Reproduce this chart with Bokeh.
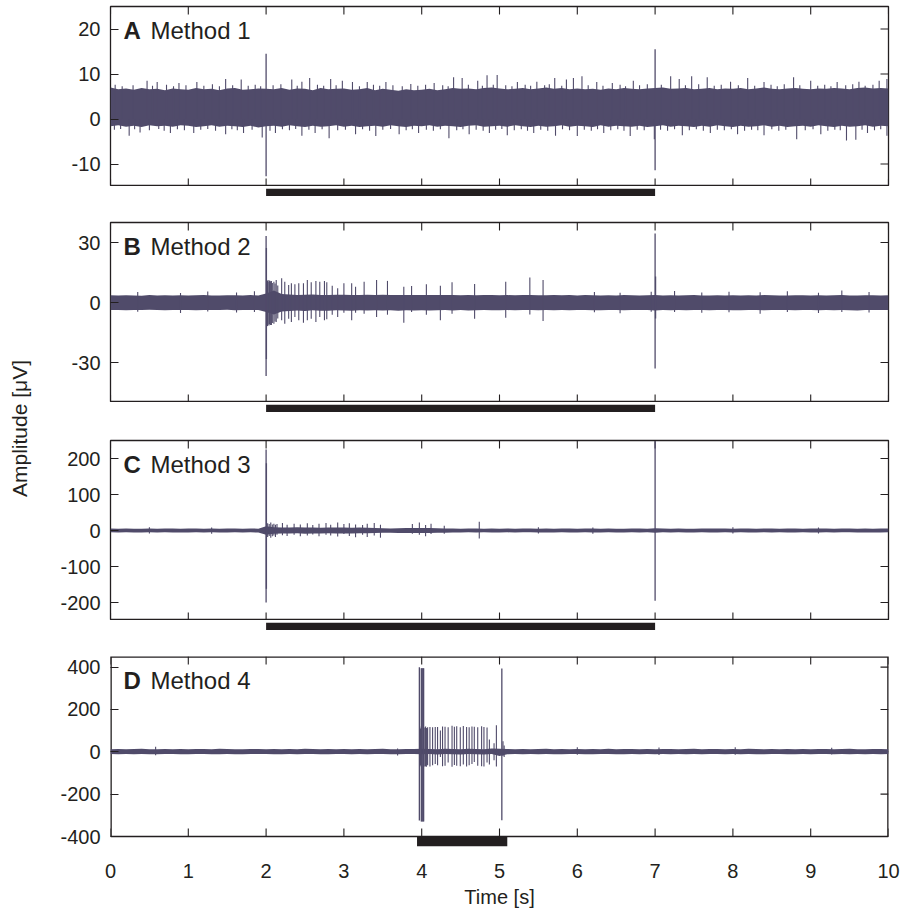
from math import pi
from bokeh.plotting import figure
from bokeh.layouts import column, row
from bokeh.models import Range1d, LinearAxis, FixedTicker, Label, ColumnDataSource
from bokeh.embed import file_html
from bokeh.resources import INLINE

INK = "#231f20"
SIG = "#504b6a"
FONT = "Liberation Sans"

# ---------------- data ----------------
x_ticks = [0, 1, 2, 3, 4, 5, 6, 7, 8, 9, 10]
x_tick_labels = ["0", "1", "2", "3", "4", "5", "6", "7", "8", "9", "10"]
core_t = [round(i * 0.1, 1) for i in range(101)]  # envelope sample times (s)

panel_letters = ["A", "B", "C", "D"]
panel_names = ["Method 1", "Method 2", "Method 3", "Method 4"]
y_ranges = [(-15, 25), (-50, 40), (-250, 250), (-400, 450)]
y_ticks = [[-10, 0, 10, 20], [-30, 0, 30], [-200, -100, 0, 100, 200], [-400, -200, 0, 200, 400]]
y_tick_labels = [["-10", "0", "10", "20"], ["-30", "0", "30"],
                 ["-200", "-100", "0", "100", "200"], ["-400", "-200", "0", "200", "400"]]
stim_start = [2.0, 2.0, 2.0, 3.94]
stim_end = [7.0, 7.0, 7.0, 5.10]

# Panel A: noise envelope
a_hi = [7.0, 6.6, 6.8, 6.5, 6.9, 6.6, 6.7, 6.4, 6.8, 6.6,
        6.5, 6.9, 6.6, 6.7, 6.4, 6.8, 6.9, 6.5, 6.6, 6.8,
        6.7, 6.6, 6.9, 6.5, 6.8, 6.7, 6.4, 6.9, 6.6, 6.7,
        6.8, 6.5, 6.6, 6.9, 6.4, 6.7, 6.5, 6.3, 6.6, 6.4,
        6.5, 6.7, 6.4, 6.6, 6.9, 6.7, 6.8, 6.6, 6.9, 7.0,
        6.8, 6.6, 6.7, 6.9, 6.6, 6.8, 7.0, 6.7, 6.9, 6.6,
        6.8, 6.6, 6.7, 6.5, 6.8, 6.6, 6.9, 6.7, 6.6, 6.8,
        6.9, 7.0, 6.7, 6.8, 6.9, 6.6, 6.7, 6.9, 6.6, 6.8,
        6.7, 6.9, 6.6, 6.8, 7.0, 6.7, 6.6, 6.8, 6.9, 6.7,
        6.6, 6.8, 6.7, 6.9, 6.8, 6.6, 6.9, 7.0, 6.8, 6.9,
        6.8]
a_lo = [-1.6, -1.4, -1.7, -1.5, -1.8, -1.4, -1.6, -1.5, -1.7, -1.4,
        -1.5, -1.8, -1.6, -1.4, -1.7, -1.5, -1.6, -1.8, -1.5, -1.9,
        -1.6, -1.5, -1.7, -1.4, -1.6, -1.8, -1.5, -1.7, -1.6, -1.4,
        -1.7, -1.5, -1.8, -1.6, -1.5, -1.7, -1.4, -1.6, -1.8, -1.5,
        -1.6, -1.4, -1.7, -1.5, -1.6, -1.8, -1.5, -1.4, -1.7, -1.6,
        -1.5, -1.7, -1.4, -1.6, -1.8, -1.5, -1.7, -1.6, -1.4, -1.7,
        -1.5, -1.6, -1.8, -1.4, -1.7, -1.5, -1.6, -1.7, -1.5, -1.8,
        -1.6, -1.4, -1.7, -1.5, -1.6, -1.8, -1.5, -1.7, -1.4, -1.6,
        -1.8, -1.5, -1.7, -1.6, -1.4, -1.7, -1.5, -1.8, -1.6, -1.5,
        -1.7, -1.4, -1.6, -1.8, -1.5, -1.7, -1.6, -1.4, -1.7, -1.5,
        -1.6]
a_up_t = [0.06, 0.15, 0.29, 0.47, 0.54, 0.60, 0.72, 0.81, 0.88, 0.97, 1.11, 1.20, 1.31, 1.40, 1.48, 1.57,
          1.68, 1.77, 1.86, 1.93, 2.09, 2.19, 2.33, 2.40, 2.46, 2.56, 2.66, 2.74, 2.83, 2.90, 2.98, 3.11,
          3.20, 3.30, 3.38, 3.46, 3.54, 3.63, 3.75, 3.86, 3.95, 4.05, 4.16, 4.27, 4.34, 4.41, 4.52, 4.60,
          4.72, 4.78, 4.84, 4.92, 4.97, 5.08, 5.16, 5.23, 5.33, 5.40, 5.48, 5.58, 5.64, 5.71, 5.80, 5.86,
          5.95, 6.06, 6.14, 6.25, 6.33, 6.45, 6.55, 6.62, 6.72, 6.80, 6.90, 7.08, 7.20, 7.31, 7.39, 7.47,
          7.56, 7.67, 7.76, 7.85, 7.97, 8.07, 8.19, 8.28, 8.40, 8.49, 8.57, 8.66, 8.78, 8.86, 9.00, 9.09,
          9.18, 9.26, 9.34, 9.45, 9.54, 9.62, 9.70, 9.80, 9.88, 9.98]
a_up_v = [7.6, 7.3, 7.5, 8.5, 7.4, 8.2, 7.6, 7.3, 8.0, 7.5, 8.2, 7.4, 7.7, 7.3, 8.9, 7.5,
          8.8, 7.4, 7.6, 7.3, 7.5, 7.7, 8.8, 7.4, 8.3, 9.1, 7.6, 7.4, 8.9, 7.5, 8.5, 8.2,
          7.3, 8.2, 7.6, 7.4, 8.2, 7.5, 7.3, 7.8, 7.4, 7.6, 8.0, 7.5, 7.3, 9.3, 9.1, 7.6,
          8.5, 7.4, 9.7, 7.6, 9.8, 7.5, 7.3, 8.2, 7.6, 7.4, 8.3, 7.5, 7.7, 9.1, 7.4, 8.8,
          9.1, 9.5, 7.5, 8.2, 7.4, 8.0, 7.6, 7.3, 8.5, 7.5, 7.7, 7.6, 9.5, 8.9, 7.5, 9.5,
          7.7, 9.3, 7.4, 7.6, 8.3, 7.5, 9.1, 7.4, 8.2, 7.6, 7.3, 7.7, 9.3, 7.5, 8.5, 7.4,
          7.6, 7.3, 8.2, 7.5, 7.7, 8.3, 7.4, 7.6, 8.5, 8.9]
a_dn_t = [0.05, 0.13, 0.24, 0.31, 0.38, 0.50, 0.62, 0.69, 0.77, 0.86, 0.95, 1.07, 1.16, 1.25, 1.35, 1.48,
          1.56, 1.63, 1.71, 1.82, 1.95, 2.05, 2.12, 2.21, 2.30, 2.38, 2.46, 2.55, 2.63, 2.72, 2.81, 2.92,
          3.02, 3.15, 3.24, 3.33, 3.41, 3.50, 3.60, 3.71, 3.80, 3.88, 3.96, 4.06, 4.15, 4.24, 4.35, 4.45,
          4.53, 4.61, 4.70, 4.79, 4.87, 4.95, 5.03, 5.10, 5.19, 5.28, 5.36, 5.44, 5.53, 5.62, 5.72, 5.81,
          5.90, 6.00, 6.09, 6.18, 6.26, 6.34, 6.43, 6.52, 6.60, 6.68, 6.77, 6.86, 6.99, 7.07, 7.16, 7.25,
          7.35, 7.44, 7.53, 7.62, 7.71, 7.80, 7.89, 7.98, 8.06, 8.15, 8.24, 8.32, 8.40, 8.50, 8.59, 8.68,
          8.82, 8.93, 9.03, 9.13, 9.22, 9.31, 9.38, 9.46, 9.58, 9.66, 9.73, 9.82, 9.90, 9.98]
a_dn_v = [-2.4, -2.2, -3.7, -2.3, -3.0, -2.5, -2.2, -2.6, -3.1, -2.3, -2.5, -3.1, -2.4, -2.2, -2.6, -3.4,
          -2.3, -2.5, -3.1, -2.4, -4.1, -2.6, -3.1, -2.3, -2.5, -2.2, -3.7, -2.4, -3.1, -2.3, -4.3, -2.5,
          -2.4, -3.4, -2.3, -2.6, -3.8, -2.4, -2.2, -3.4, -2.5, -2.3, -3.1, -2.4, -2.6, -2.3, -4.3, -2.5,
          -2.3, -3.4, -2.4, -2.6, -3.1, -2.4, -2.2, -3.6, -2.5, -2.3, -2.6, -3.1, -2.4, -2.6, -3.7, -2.3,
          -2.5, -3.8, -2.4, -2.6, -2.3, -3.1, -2.5, -2.3, -2.6, -3.8, -2.4, -2.5, -4.5, -2.4, -2.6, -2.3,
          -3.6, -2.5, -2.3, -2.6, -3.1, -2.4, -2.5, -2.3, -3.4, -2.6, -2.4, -2.5, -3.6, -2.3, -2.6, -2.4,
          -4.5, -2.5, -2.3, -3.4, -2.6, -2.4, -2.5, -4.8, -4.6, -2.4, -3.1, -2.5, -2.3, -3.7]
a_art_t = [2.0, 7.0]
a_art_top = [14.5, 15.5]
a_art_bot = [-12.7, -11.4]

# Panel B
b_hi = [3.6, 3.5, 3.6, 3.5, 3.4, 3.7, 3.5, 3.6, 3.5, 3.6,
        3.5, 3.6, 3.7, 3.5, 3.5, 3.6, 3.6, 3.5, 3.7, 3.5,
        4.5, 6.0, 4.2, 4.0, 3.8, 3.9, 4.0, 3.8, 3.8, 3.9,
        3.9, 3.8, 3.8, 3.9, 3.7, 3.9, 3.7, 3.8, 3.7, 3.8,
        3.7, 3.8, 3.7, 3.8, 3.7, 3.6, 3.8, 3.6, 3.7, 3.8,
        3.6, 3.7, 3.6, 3.7, 3.8, 3.6, 3.6, 3.7, 3.6, 3.7,
        3.5, 3.7, 3.6, 3.5, 3.6, 3.5, 3.7, 3.6, 3.5, 3.6,
        3.8, 3.5, 3.6, 3.5, 3.6, 3.7, 3.5, 3.5, 3.6, 3.5,
        3.6, 3.5, 3.6, 3.5, 3.7, 3.6, 3.5, 3.5, 3.6, 3.6,
        3.5, 3.6, 3.5, 3.6, 3.7, 3.5, 3.5, 3.6, 3.6, 3.5,
        3.6]
b_lo = [-3.8, -3.7, -3.9, -3.7, -3.8, -3.6, -3.8, -3.9, -3.7, -3.8,
        -3.7, -3.9, -3.7, -3.8, -3.8, -3.6, -3.9, -3.7, -3.8, -3.7,
        -4.8, -6.0, -4.5, -4.2, -4.0, -4.2, -3.9, -4.1, -4.1, -3.9,
        -4.0, -4.1, -3.9, -4.0, -3.9, -4.0, -3.9, -4.1, -3.9, -4.0,
        -3.9, -4.0, -3.9, -3.8, -4.0, -3.8, -4.0, -3.9, -3.8, -3.9,
        -3.9, -3.8, -3.9, -3.8, -3.7, -3.9, -3.8, -3.9, -3.8, -3.9,
        -3.8, -3.7, -3.9, -3.9, -3.7, -3.8, -3.9, -3.7, -3.8, -3.8,
        -4.0, -3.8, -3.9, -3.7, -3.9, -3.8, -3.8, -3.9, -3.8, -3.7,
        -3.9, -3.9, -3.8, -3.8, -3.9, -3.7, -3.8, -3.8, -3.9, -3.8,
        -3.8, -3.9, -3.7, -3.9, -3.8, -3.9, -4.0, -3.8, -3.7, -3.8,
        -3.8]
b_spk_t = [2.010, 2.018, 2.025, 2.037, 2.045, 2.055, 2.068, 2.080, 2.100, 2.115, 2.130, 2.150,
           2.20, 2.24, 2.29, 2.325, 2.37, 2.42, 2.48, 2.53, 2.58, 2.64, 2.69, 2.75, 2.78, 2.85, 2.92,
           3.00, 3.10, 3.15, 3.26, 3.42, 3.56, 3.77, 3.87, 4.06, 4.24, 4.39, 4.68, 5.08, 5.39, 5.56,
           0.35, 0.90, 1.25, 1.62, 1.85, 6.22, 6.55, 6.95, 7.25, 7.60, 7.95, 8.35, 8.70, 9.10, 9.40, 9.75]
b_spk_top = [9.5, 10.8, 11.2, 10.4, 11.0, 10.6, 10.7, 9.8, 10.4, 9.5, 11.3, 8.5,
             12.1, 10.4, 8.8, 9.6, 9.1, 9.6, 9.6, 11.3, 10.1, 10.8, 10.4, 10.8, 10.1, 8.4, 7.1,
             9.6, 9.6, 7.9, 10.4, 11.3, 10.8, 7.9, 8.3, 9.1, 8.4, 10.1, 9.3, 10.4, 12.5, 11.3,
             5.2, 4.8, 5.5, 5.0, 5.6, 5.3, 4.9, 5.4, 5.8, 5.0, 5.4, 5.1, 5.6, 4.9, 6.0, 5.2]
b_spk_bot = [-10.5, -11.8, -11.0, -11.5, -10.8, -11.2, -11.2, -10.2, -10.6, -9.5, -9.8, -8.0,
             -8.9, -10.6, -8.1, -9.8, -7.3, -8.9, -10.1, -8.9, -8.1, -9.8, -7.3, -8.9, -8.4, -6.1, -7.3,
             -5.1, -8.9, -5.1, -5.6, -7.3, -6.1, -10.1, -4.7, -6.1, -8.9, -5.6, -8.1, -7.6, -6.0, -9.3,
             -4.6, -5.3, -4.5, -5.0, -4.8, -4.9, -5.4, -4.6, -4.7, -5.1, -4.9, -5.6, -4.8, -5.2, -4.7, -5.0]
b_art_t = [2.0, 2.004, 7.0, 7.006]
b_art_top = [33.2, 27.3, 34.5, 13.0]
b_art_bot = [-36.8, -28.3, -33.0, -8.0]

# Panel C
c_hi = [5.5, 5.0, 5.8, 5.2, 4.9, 5.6, 5.1, 5.4, 5.9, 5.0,
        5.3, 5.7, 4.9, 5.5, 5.1, 5.8, 5.4, 5.0, 5.6, 5.2,
        12.0, 9.0, 8.5, 8.0, 8.8, 8.2, 8.6, 7.8, 8.4, 8.0,
        8.2, 7.6, 8.0, 7.4, 7.0, 6.2, 5.8, 6.5, 6.8, 7.0,
        7.2, 6.8, 6.5, 5.9, 5.6, 5.2, 5.8, 5.4, 5.0, 5.6,
        5.2, 5.7, 5.0, 5.4, 5.8, 5.1, 5.5, 5.0, 5.6, 5.3,
        5.1, 5.5, 5.3, 5.0, 5.7, 5.2, 4.9, 5.5, 5.8, 5.1,
        6.5, 5.4, 5.1, 5.6, 5.2, 5.0, 5.5, 5.8, 5.3, 5.5,
        5.0, 5.7, 5.4, 5.1, 5.9, 5.5, 5.0, 5.6, 5.8, 5.2,
        5.6, 5.3, 5.9, 5.0, 5.5, 5.7, 5.2, 5.6, 5.1, 5.4,
        5.5]
c_lo = [-5.2, -5.7, -5.0, -5.5, -5.9, -5.1, -5.5, -5.0, -5.7, -5.3,
        -5.5, -5.0, -5.6, -5.1, -5.8, -5.4, -5.0, -5.7, -5.2, -5.5,
        -12.0, -9.0, -8.2, -8.6, -7.9, -8.8, -8.0, -8.4, -7.8, -8.5,
        -8.0, -8.3, -7.5, -7.8, -6.8, -6.4, -6.0, -6.6, -7.0, -7.2,
        -6.9, -7.1, -6.4, -6.0, -5.5, -5.8, -5.2, -5.6, -5.1, -5.4,
        -5.5, -5.1, -5.6, -5.2, -5.0, -5.7, -5.3, -5.5, -5.1, -5.6,
        -5.3, -5.0, -5.5, -5.7, -5.1, -5.4, -5.8, -5.1, -5.5, -5.2,
        -6.5, -5.2, -5.6, -5.1, -5.5, -5.8, -5.1, -5.4, -5.7, -5.1,
        -5.5, -5.1, -5.7, -5.3, -5.0, -5.6, -5.2, -5.8, -5.4, -5.1,
        -5.4, -5.7, -5.1, -5.6, -5.2, -5.0, -5.6, -5.3, -5.5, -5.7,
        -5.2]
c_spk_t = [2.02, 2.04, 2.06, 2.08, 2.10, 2.12, 2.14, 2.21, 2.27, 2.36, 2.44, 2.53, 2.60, 2.68, 2.77,
           2.83, 2.92, 3.00, 3.07, 3.15, 3.24, 3.30, 3.39, 3.47, 3.88, 3.97, 4.05, 4.12, 4.29, 4.74,
           0.50, 1.30, 5.50, 6.20, 8.00, 9.10]
c_spk_top = [20, 18, 22, 17, 19, 16, 18, 21, 16, 19, 17, 20, 15, 19, 21,
             16, 22, 18, 20, 17, 15, 19, 21, 16, 18, 22, 15, 19, 13, 24,
             9, 8, 9, 8, 9, 8]
c_spk_bot = [-18, -15, -20, -16, -14, -18, -12, -13, -15, -12, -16, -14, -11, -16, -12,
             -14, -17, -10, -15, -19, -12, -18, -14, -20, -9, -12, -16, -10, -9, -22,
             -8, -9, -8, -9, -8, -8]
c_art_t = [2.0, 2.004, 7.0]
c_art_top = [225, 187, 248]
c_art_bot = [-200, -162, -195]

# Panel D
d_hi = [12, 13, 12, 13, 14, 12, 12, 13, 12, 13,
        12, 13, 13, 12, 14, 13, 12, 12, 13, 13,
        12, 13, 12, 13, 12, 14, 13, 12, 13, 12,
        13, 12, 13, 12, 13, 14, 12, 12, 13, 13,
        14, 13, 12, 14, 13, 12, 14, 13, 12, 15,
        14, 13, 12, 13, 12, 13, 14, 12, 13, 12,
        13, 12, 13, 12, 14, 12, 13, 13, 12, 13,
        12, 13, 13, 12, 13, 14, 12, 13, 13, 12,
        13, 12, 14, 13, 12, 13, 12, 13, 12, 13,
        12, 13, 13, 12, 13, 14, 12, 12, 13, 13,
        12]
d_lo = [-11, -12, -11, -12, -10, -12, -12, -11, -11, -12,
        -12, -11, -11, -12, -12, -11, -12, -12, -11, -11,
        -11, -12, -12, -11, -12, -11, -11, -12, -12, -11,
        -11, -12, -11, -12, -11, -11, -12, -12, -11, -11,
        -12, -11, -13, -11, -12, -13, -11, -12, -13, -11,
        -20, -12, -11, -12, -11, -12, -11, -12, -12, -11,
        -11, -12, -12, -11, -11, -12, -12, -11, -12, -11,
        -12, -11, -12, -11, -12, -11, -12, -11, -11, -12,
        -11, -12, -11, -12, -12, -11, -11, -12, -12, -11,
        -12, -11, -11, -12, -11, -12, -11, -12, -11, -12,
        -11]
d_spk_t = [0.58, 3.69, 3.975, 3.985, 4.04, 4.05, 4.06, 4.07,
           4.076, 4.106, 4.14, 4.174, 4.204, 4.24, 4.268, 4.30, 4.34, 4.39, 4.42, 4.45, 4.496,
           4.535, 4.577, 4.61, 4.646, 4.676, 4.72, 4.77, 4.80, 4.84, 4.87, 4.93, 4.96,
           5.045, 5.06, 6.00, 7.05, 8.03, 9.27]
d_spk_top = [24, 16, 119, 110, 115, 119, 112, 108,
             116, 117, 116, 117, 117, 100, 120, 118, 116, 123, 118, 121, 116,
             122, 117, 116, 119, 118, 116, 121, 117, 115, 58, 40, 125,
             50, 30, 21, 20, 22, 19]
d_spk_bot = [-16, -18, -71, -65, -70, -68, -71, -60,
             -63, -69, -63, -58, -63, -24, -68, -66, -50, -71, -62, -66, -68,
             -60, -70, -64, -58, -48, -66, -68, -70, -50, -60, -40, -70,
             -20, -25, -14, -15, -14, -13]
d_art_t = [3.97, 3.995, 4.005, 4.015, 4.025, 5.03]
d_art_top = [399, 394, 394, 394, 394, 393]
d_art_bot = [-325, -329, -329, -329, -329, -323]

# ---------------- drawing ----------------
XR = Range1d(0, 10)
FRAME_H = 180      # px height of each data box
BAR_H = 10         # px height of the stimulus bar


def make_panel(i, height, top, bottom, hi, lo, art_t, art_top, art_bot, bar_inside=False):
    y0, y1 = y_ranges[i]
    ystart = y0
    if bar_inside:
        ystart = y0 - (y1 - y0) * BAR_H / FRAME_H   # room for the bar below the box
    p = figure(width=866, height=height, x_range=XR, y_range=Range1d(ystart, y1),
               x_axis_location=None, y_axis_location=None, output_backend="svg",
               toolbar_location=None, min_border_left=70, min_border_right=18,
               min_border_top=top, min_border_bottom=bottom,
               outline_line_color=None if bar_inside else INK, outline_line_width=1.3,
               background_fill_color="white", border_fill_color="white")
    p.grid.visible = False

    left = LinearAxis(ticker=FixedTicker(ticks=y_ticks[i], minor_ticks=[]),
                      major_label_overrides=dict(zip(y_ticks[i], y_tick_labels[i])),
                      major_tick_in=8, major_tick_out=0,
                      major_tick_line_color=INK, major_tick_line_width=1.1,
                      minor_tick_line_color=None, axis_line_color=None,
                      major_label_text_font=FONT, major_label_text_font_size="20px",
                      major_label_text_color=INK, major_label_standoff=10)
    p.add_layout(left, "left")

    if bar_inside:
        # box around the data area: left, top, right edges lie on the frame edge
        p.multi_line(xs=[[XR.start, XR.start, XR.end, XR.end]], ys=[[y0, y1, y1, y0]],
                     line_color=INK, line_width=2.6)
        p.segment(x0=XR.start, y0=y0, x1=XR.end, y1=y0, line_color=INK, line_width=1.3)
        p.quad(left=[stim_start[i]], right=[stim_end[i]], bottom=[ystart], top=[y0],
               fill_color=INK, line_color=None)

    p.ray(x=x_ticks, y=y0, length=8, angle=pi / 2, length_units="screen",
          line_color=INK, line_width=1.1)
    p.ray(x=x_ticks, y=y1, length=8, angle=-pi / 2, length_units="screen",
          line_color=INK, line_width=1.1)
    p.ray(x=XR.end, y=y_ticks[i], length=8, angle=pi, length_units="screen",
          line_color=INK, line_width=1.1)

    p.varea(x=core_t, y1=lo, y2=hi, fill_color=SIG)
    src = ColumnDataSource(dict(t=art_t, top=art_top, bot=art_bot))
    p.segment(x0="t", y0="bot", x1="t", y1="top", source=src, line_color=SIG, line_width=1.3)

    p.add_layout(Label(x=0, y=y1, x_offset=13, y_offset=-24, text=panel_letters[i],
                       text_font=FONT, text_font_style="bold", text_font_size="24px",
                       text_color=INK, text_baseline="alphabetic", text_align="left"))
    p.add_layout(Label(x=0, y=y1, x_offset=40, y_offset=-24, text=panel_names[i],
                       text_font=FONT, text_font_style="normal", text_font_size="24px",
                       text_color=INK, text_baseline="alphabetic", text_align="left"))
    return p


def add_spikes(p, t, top, bot):
    src = ColumnDataSource(dict(t=t, top=top, bot=bot))
    p.segment(x0="t", y0="bot", x1="t", y1="top", source=src, line_color=SIG, line_width=1.1)


def make_strip(i):
    s = figure(width=866, height=BAR_H, x_range=XR, y_range=Range1d(0, 1),
               x_axis_location=None, y_axis_location=None, output_backend="svg",
               toolbar_location=None, min_border_left=70, min_border_right=18,
               min_border_top=0, min_border_bottom=0, outline_line_color=None,
               background_fill_color="white", border_fill_color="white")
    s.grid.visible = False
    s.quad(left=[stim_start[i]], right=[stim_end[i]], bottom=[0], top=[1],
           fill_color=INK, line_color=None)
    return s


pa = make_panel(0, 186, 6, 0, a_hi, a_lo, a_art_t, a_art_top, a_art_bot)
pa.segment(x0=a_up_t, y0=0, x1=a_up_t, y1=a_up_v, line_color=SIG, line_width=1.1)
pa.segment(x0=a_dn_t, y0=0, x1=a_dn_t, y1=a_dn_v, line_color=SIG, line_width=1.1)

pb = make_panel(1, 206, 26, 0, b_hi, b_lo, b_art_t, b_art_top, b_art_bot)
add_spikes(pb, b_spk_t, b_spk_top, b_spk_bot)

pc = make_panel(2, 208, 28, 0, c_hi, c_lo, c_art_t, c_art_top, c_art_bot)
add_spikes(pc, c_spk_t, c_spk_top, c_spk_bot)

pd = make_panel(3, 280, 26, 64, d_hi, d_lo, d_art_t, d_art_top, d_art_bot, bar_inside=True)
add_spikes(pd, d_spk_t, d_spk_top, d_spk_bot)
xax = LinearAxis(ticker=FixedTicker(ticks=x_ticks, minor_ticks=[]),
                 major_label_overrides=dict(zip(x_ticks, x_tick_labels)),
                 major_tick_in=0, major_tick_out=0, major_tick_line_color=None,
                 minor_tick_line_color=None, axis_line_color=None,
                 major_label_standoff=17, major_label_text_font=FONT,
                 major_label_text_font_size="20px", major_label_text_color=INK,
                 axis_label="Time [s]", axis_label_standoff=5, axis_label_text_font=FONT,
                 axis_label_text_font_size="20px", axis_label_text_font_style="normal",
                 axis_label_text_color=INK)
pd.add_layout(xax, "below")

lf = figure(width=40, height=910, x_range=Range1d(0, 40), y_range=Range1d(0, 910),
            x_axis_location=None, y_axis_location=None, output_backend="svg",
            toolbar_location=None, min_border=0, outline_line_color=None,
            background_fill_color="white", border_fill_color="white")
lf.grid.visible = False
lf.add_layout(Label(x=19, y=482, text="Amplitude [μV]", angle=pi / 2, text_align="center",
                    text_baseline="middle", text_font=FONT, text_font_size="21px", text_color=INK))

layout = row(lf, column(pa, make_strip(0), pb, make_strip(1), pc, make_strip(2), pd))
open("out.html", "w").write(file_html(layout, INLINE))
